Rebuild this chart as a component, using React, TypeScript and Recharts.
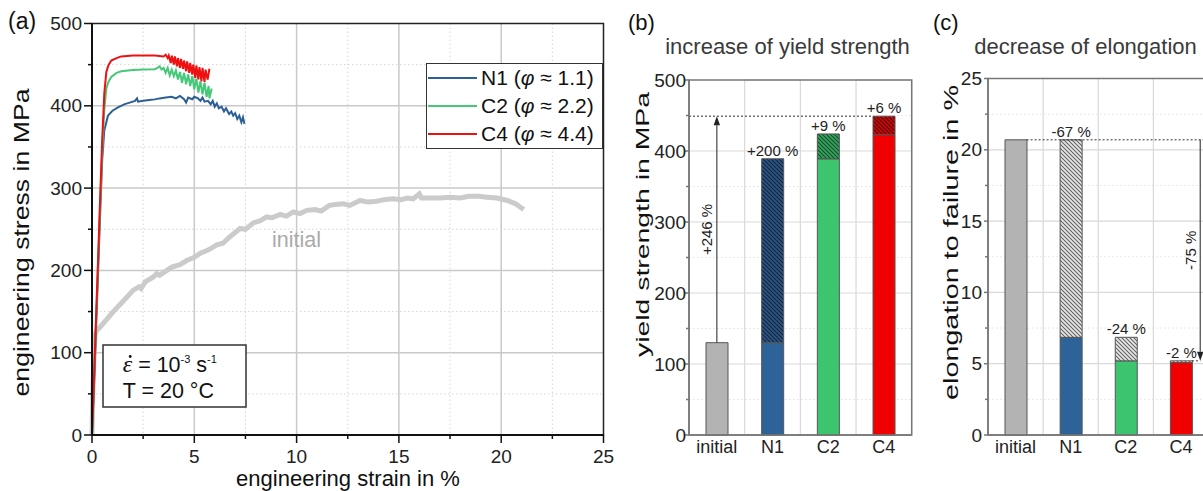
import React from 'react';
import {
  LineChart, Line, XAxis, YAxis, CartesianGrid, ReferenceArea, ReferenceLine,
  Legend, BarChart, Bar, Cell, LabelList,
} from 'recharts';

const FONT = '"Liberation Sans", Arial, Helvetica, sans-serif';

// ---------- (a) tensile curves: [engineering strain %, engineering stress MPa]
const INITIAL_CURVE: [number, number][] = [
  [0, 0], [0.05, 60], [0.1, 100], [0.15, 122], [0.23, 127], [0.39, 131], [0.7, 140], [1.04, 150],
  [1.5, 162], [2.02, 176], [2.3, 180], [2.4, 178], [2.6, 186], [3.0, 192], [3.16, 196], [3.3, 194],
  [3.9, 204], [4.3, 207], [4.63, 212], [5.0, 216], [5.3, 221], [5.7, 225], [6.1, 231], [6.4, 233],
  [6.7, 240], [7.0, 246], [7.24, 251], [7.5, 250], [7.9, 258], [8.2, 260], [8.54, 265], [8.8, 264],
  [9.2, 268], [9.5, 266], [9.84, 271], [10.17, 269], [10.5, 273], [10.9, 274], [11.2, 272],
  [11.6, 279], [11.9, 280], [12.3, 281], [12.6, 279], [13.1, 285], [13.5, 283], [13.9, 284],
  [14.3, 286], [14.7, 287], [15.1, 286], [15.4, 288], [15.7, 287], [16.0, 293], [16.1, 288],
  [16.5, 288], [17.0, 288], [17.5, 289], [18.0, 288], [18.4, 290], [18.9, 290], [19.3, 289],
  [19.8, 288], [20.3, 285], [20.7, 281], [21.1, 274],
];
const N1_CURVE: [number, number][] = [
  [0, 0], [0.1, 60], [0.2, 130], [0.3, 200], [0.4, 270], [0.5, 335], [0.6, 370], [0.64, 374], [0.78, 388],
  [1.0, 394], [1.27, 398], [1.6, 402], [1.92, 404.5], [2.1, 406], [2.2, 409], [2.25, 405], [2.5, 406],
  [2.8, 407], [3.07, 407.8], [3.3, 409], [3.6, 410], [3.9, 411], [4.1, 409], [4.3, 412], [4.5, 408],
  [4.6, 404], [4.7, 410], [4.9, 408], [5.0, 411], [5.18, 409], [5.3, 406], [5.4, 410], [5.5, 405],
  [5.67, 406], [5.8, 402], [5.9, 406], [6.0, 399], [6.1, 403], [6.2, 397], [6.33, 399], [6.45, 393],
  [6.55, 397], [6.7, 390], [6.81, 393], [6.9, 388], [7.0, 391], [7.1, 384], [7.2, 388], [7.3, 380],
  [7.38, 386], [7.45, 378],
];
const C2_CURVE: [number, number][] = [
  [0, 0], [0.1, 70], [0.2, 140], [0.3, 210], [0.4, 280], [0.5, 345], [0.6, 395], [0.7, 421], [0.8, 429],
  [0.94, 435], [1.2, 440], [1.43, 442], [2.0, 443.5], [2.5, 444], [3.07, 444.5], [3.2, 446], [3.3, 448],
  [3.4, 444], [3.5, 446], [3.6, 440], [3.7, 446], [3.8, 437], [3.9, 444], [4.0, 436], [4.1, 443],
  [4.2, 432], [4.3, 441], [4.4, 428], [4.5, 440], [4.6, 426], [4.7, 438], [4.8, 424], [4.9, 436],
  [5.0, 420], [5.1, 433], [5.2, 416], [5.3, 430], [5.4, 414], [5.5, 428], [5.6, 411], [5.7, 424],
  [5.74, 409], [5.85, 421],
];
const C4_CURVE: [number, number][] = [
  [0, 0], [0.1, 70], [0.2, 145], [0.3, 215], [0.4, 290], [0.5, 360], [0.6, 415], [0.7, 441], [0.8, 449],
  [0.94, 455], [1.2, 458], [1.43, 460], [2.0, 461], [2.5, 461], [3.07, 461], [3.5, 460], [3.6, 462],
  [3.7, 458], [3.75, 461], [3.85, 452], [3.9, 461], [4.0, 450], [4.05, 460], [4.15, 448], [4.2, 458],
  [4.3, 446], [4.35, 457], [4.45, 445], [4.5, 455], [4.6, 442], [4.65, 454], [4.75, 440], [4.8, 452],
  [4.9, 438], [4.95, 450], [5.05, 434], [5.1, 449], [5.2, 432], [5.25, 447], [5.35, 430], [5.4, 446],
  [5.5, 429], [5.55, 444], [5.65, 432], [5.74, 445],
];
const STRAIN_TICKS = [0, 2.5, 5, 7.5, 10, 12.5, 15, 17.5, 20, 22.5, 25];
const STRAIN_MAJOR = [0, 5, 10, 15, 20, 25];
const STRESS_TICKS = [0, 50, 100, 150, 200, 250, 300, 350, 400, 450, 500];
const STRESS_MAJOR = [0, 100, 200, 300, 400, 500];
const LEGEND_ORDER = ['N1', 'C2', 'C4'];

// ---------- (b) yield strength
const SAMPLES = ['initial', 'N1', 'C2', 'C4'];
const YIELD_BASE = [130, 130, 389, 423];
const YIELD_TOTAL = [130, 389, 424, 449];
const YIELD_LABELS = ['', '+200 %', '+9 %', '+6 %'];
const YIELD_GAIN_LABEL = '+246 %';
const YS_TICKS = [0, 50, 100, 150, 200, 250, 300, 350, 400, 450, 500];
const YS_MAJOR = [0, 100, 200, 300, 400, 500];

// ---------- (c) elongation to failure
const ELONG_TOTAL = [20.7, 20.7, 6.85, 5.2];
const ELONG_BASE = [20.7, 6.85, 5.2, 5.08];
const ELONG_LABELS = ['', '-67 %', '-24 %', '-2 %'];
const ELONG_LOSS_LABEL = '-75 %';
const EL_TICKS = [0, 2.5, 5, 7.5, 10, 12.5, 15, 17.5, 20, 22.5, 25];
const EL_MAJOR = [0, 5, 10, 15, 20, 25];

// styles
const BAR_W = 22;
const SOLID = ['#b3b3b3', '#2e6399', '#3dc46e', '#f00000'];
const HATCH_B = ['url(#hbGray)', 'url(#hbN1)', 'url(#hbC2)', 'url(#hbC4)'];
const LINE_COL = { initial: '#cbcbcb', N1: '#2d5f97', C2: '#45c878', C4: '#ee1111' };

const toXY = (arr: [number, number][]) => arr.map(([x, y]) => ({ x, y }));
const yieldData = SAMPLES.map((s, i) => ({
  name: s, base: YIELD_BASE[i], inc: YIELD_TOTAL[i] - YIELD_BASE[i], lab: YIELD_LABELS[i],
}));
const elongData = SAMPLES.map((s, i) => ({
  name: s, base: ELONG_BASE[i], dec: ELONG_TOTAL[i] - ELONG_BASE[i], lab: ELONG_LABELS[i],
}));

type TickOpts = {
  side: 'bottom' | 'left'; majors?: number[]; len: number; minorLen: number;
  gap: number; size: number; stroke: string; color: string;
};
function makeTick(o: TickOpts) {
  return (props: any) => {
    const { x, y, payload } = props;
    const v = payload?.value;
    const major = !o.majors || o.majors.includes(v);
    const L = major ? o.len : o.minorLen;
    if (o.side === 'bottom') {
      return (
        <g>
          {L > 0 && <line x1={x} x2={x} y1={y} y2={y + L} stroke={o.stroke} strokeWidth={1.5} />}
          {major && (
            <text x={x} y={y + o.gap} textAnchor="middle" fontSize={o.size} fontFamily={FONT} fill={o.color}>{v}</text>
          )}
        </g>
      );
    }
    return (
      <g>
        {L > 0 && <line x1={x - L} x2={x} y1={y} y2={y} stroke={o.stroke} strokeWidth={1.5} />}
        {major && (
          <text x={x - o.gap} y={y + o.size * 0.35} textAnchor="end" fontSize={o.size} fontFamily={FONT} fill={o.color}>{v}</text>
        )}
      </g>
    );
  };
}

const barLabel = (p: any) => {
  if (!p.value) return null;
  return (
    <text x={p.x + p.width / 2} y={p.y - 3} textAnchor="middle" fontSize={15} fontFamily={FONT} fill="#222">
      {p.value}
    </text>
  );
};

function drawArrow(x: number, tailY: number, tipY: number, label: string) {
  const dir = tipY < tailY ? 1 : -1;
  const baseY = tipY + dir * 9;
  const mid = (tailY + tipY) / 2;
  return (
    <g>
      <line x1={x} x2={x} y1={tailY} y2={baseY} stroke="#444" strokeWidth={1.2} />
      <path d={`M${x},${tipY}L${x - 3.2},${baseY}L${x + 3.2},${baseY}Z`} fill="#222" />
      <text transform={`translate(${x - 4.5},${mid}) rotate(-90)`} textAnchor="middle" fontSize={15}
        fontFamily={FONT} fill="#222">{label}</text>
    </g>
  );
}

// (b): vertical arrow at the centre of the first band
const gainArrow = (p: any) => drawArrow(p.x1, p.y1, p.y2, YIELD_GAIN_LABEL);
// (b): dotted guide from the plot's left edge to the left edge of the last bar
const gainGuide = (p: any) => {
  const band = (p.x2 - p.x1) / 3;
  return <line x1={p.x1 - band / 2} x2={p.x2 - BAR_W / 2} y1={p.y1} y2={p.y2} stroke="#333" strokeWidth={1} strokeDasharray="2 2" />;
};
// (c): dotted guide from the first bar to the plot's right edge
const lossGuide = (p: any) => {
  const band = (p.x2 - p.x1) / 3;
  return <line x1={p.x1 + BAR_W / 2} x2={p.x2 + band / 2} y1={p.y1} y2={p.y2} stroke="#333" strokeWidth={1} strokeDasharray="2 2" />;
};
// (c): arrow down at the right of the last bar, from first bar level to last bar level
const lossArrow = (p: any) => {
  const band = (p.x2 - p.x1) / 3;
  const ax = p.x2 + band * 0.35;
  return (
    <g>
      <line x1={p.x2 + BAR_W / 2} x2={ax} y1={p.y2} y2={p.y2} stroke="#333" strokeWidth={1} strokeDasharray="2 2" />
      {drawArrow(ax, p.y1, p.y2, ELONG_LOSS_LABEL)}
    </g>
  );
};

const legendContent = (props: any) => {
  const items = (props.payload || [])
    .filter((e: any) => e.type !== 'none')
    .slice()
    .sort((a: any, b: any) =>
      LEGEND_ORDER.indexOf(String(a.value).split(' ')[0]) - LEGEND_ORDER.indexOf(String(b.value).split(' ')[0]));
  return (
    <div style={{
      boxSizing: 'border-box', width: 177, border: '1.5px solid #333', background: '#fff',
      fontFamily: FONT, fontSize: 21, color: '#111',
    }}>
      {items.map((e: any) => {
        const parts = String(e.value).split('φ');
        return (
          <div key={e.value} style={{ height: 28, display: 'flex', alignItems: 'center' }}>
            <svg width={54} height={28} style={{ flex: 'none' }}>
              <line x1={1} x2={50} y1={14} y2={14} stroke={e.color} strokeWidth={2.2} />
            </svg>
            <span style={{ whiteSpace: 'nowrap', lineHeight: '28px' }}>
              {parts[0]}<i>φ</i>{parts[1]}
            </span>
          </div>
        );
      })}
    </div>
  );
};

function PanelA() {
  return (
    <div style={{ position: 'absolute', left: 0, top: 0 }}>
      <LineChart width={640} height={491} margin={{ top: 23.5, right: 36.5, bottom: 16, left: 32 }}>
        <CartesianGrid horizontalValues={[100, 200, 300, 400]} verticalValues={[5, 10, 15, 20]}
          stroke="#c9c9c9" strokeWidth={1.5} />
        <CartesianGrid horizontalValues={[50, 150, 250, 350, 450]} verticalValues={[2.5, 7.5, 12.5, 17.5, 22.5]}
          stroke="#d6d6d6" strokeWidth={1} strokeDasharray="1.5 2.5" />
        <XAxis type="number" dataKey="x" domain={[0, 25]} ticks={STRAIN_TICKS} interval={0} height={40}
          tickSize={0} tickMargin={0} tickLine={false} axisLine={{ stroke: '#111', strokeWidth: 2 }}
          tick={makeTick({ side: 'bottom', majors: STRAIN_MAJOR, len: 8, minorLen: 4, gap: 28, size: 19, stroke: '#111', color: '#222' })} />
        <YAxis type="number" dataKey="y" domain={[0, 500]} ticks={STRESS_TICKS} interval={0} width={60}
          tickSize={0} tickMargin={0} tickLine={false} axisLine={{ stroke: '#111', strokeWidth: 2 }}
          tick={makeTick({ side: 'left', majors: STRESS_MAJOR, len: 8, minorLen: 4, gap: 10, size: 19, stroke: '#111', color: '#222' })} />
        <ReferenceArea x1={0} x2={25} y1={0} y2={500} fill="none" stroke="#222" strokeWidth={1.5} />
        <Line data={toXY(INITIAL_CURVE)} dataKey="y" name="initial" legendType="none" stroke={LINE_COL.initial}
          strokeWidth={5} dot={false} isAnimationActive={false} type="linear" />
        <Line data={toXY(N1_CURVE)} dataKey="y" name="N1 (φ ≈ 1.1)" stroke={LINE_COL.N1}
          strokeWidth={2} dot={false} isAnimationActive={false} type="linear" />
        <Line data={toXY(C2_CURVE)} dataKey="y" name="C2 (φ ≈ 2.2)" stroke={LINE_COL.C2}
          strokeWidth={2} dot={false} isAnimationActive={false} type="linear" />
        <Line data={toXY(C4_CURVE)} dataKey="y" name="C4 (φ ≈ 4.4)" stroke={LINE_COL.C4}
          strokeWidth={2} dot={false} isAnimationActive={false} type="linear" />
        <Legend layout="vertical" align="center" verticalAlign="middle" content={legendContent}
          wrapperStyle={{ left: 426, top: 63, width: 177, height: 87 }} />
      </LineChart>
    </div>
  );
}

function Patterns() {
  const mk = (id: string, bg: string, fg: string) => (
    <pattern id={id} patternUnits="userSpaceOnUse" width={4} height={4}>
      <rect width={4} height={4} fill={bg} />
      <path d="M0,0L4,4M-1,3L1,5M3,-1L5,1" stroke={fg} strokeWidth={1.1} />
    </pattern>
  );
  return (
    <defs>
      {mk('hbGray', '#e8e8e8', '#636363')}
      {mk('hbN1', '#2c5585', '#14253b')}
      {mk('hbC2', '#37a35e', '#134d28')}
      {mk('hbC4', '#c80a0a', '#560000')}
    </defs>
  );
}

function PanelB() {
  return (
    <div style={{ position: 'absolute', left: 600, top: 0 }}>
      <BarChart width={330} height={491} data={yieldData} margin={{ top: 80, right: 18.3, bottom: 26, left: 39 }}
        barSize={BAR_W}>
        <Patterns />
        <CartesianGrid vertical={false} horizontalValues={[100, 200, 300, 400]} stroke="#d9d9d9" strokeWidth={1.2} />
        <CartesianGrid vertical={false} horizontalValues={[50, 150, 250, 350, 450]} stroke="#e2e2e2" strokeDasharray="1.5 2.5" />
        <XAxis dataKey="name" type="category" height={30} tickSize={0} tickMargin={0} tickLine={false}
          axisLine={{ stroke: '#777', strokeWidth: 1.5 }} interval={0}
          tick={makeTick({ side: 'bottom', len: 0, minorLen: 0, gap: 18, size: 18, stroke: '#777', color: '#222' })} />
        <YAxis type="number" domain={[0, 500]} ticks={YS_TICKS} interval={0} width={50}
          tickSize={0} tickMargin={0} tickLine={false} axisLine={{ stroke: '#777', strokeWidth: 1.5 }}
          tick={makeTick({ side: 'left', majors: YS_MAJOR, len: 4, minorLen: 3, gap: 3, size: 19, stroke: '#777', color: '#222' })} />
        <ReferenceArea x1="N1" x2="N1" y1={0} y2={500} fill="none" stroke="#d9d9d9" strokeWidth={1.2} />
        <ReferenceArea x1="C4" x2="C4" y1={0} y2={500} fill="none" stroke="#d9d9d9" strokeWidth={1.2} />
        <ReferenceArea y1={0} y2={500} fill="none" stroke="#777" strokeWidth={1.5} />
        <ReferenceLine segment={[{ x: 'initial', y: YIELD_TOTAL[3] }, { x: 'C4', y: YIELD_TOTAL[3] }]}
          shape={gainGuide} />
        <Bar dataKey="base" stackId="s" stroke="#555" strokeWidth={1} isAnimationActive={false}>
          {yieldData.map((d, i) => <Cell key={d.name} fill={SOLID[i]} />)}
        </Bar>
        <Bar dataKey="inc" stackId="s" stroke="#555" strokeWidth={1} isAnimationActive={false}>
          {yieldData.map((d, i) => <Cell key={d.name} fill={HATCH_B[i]} />)}
          <LabelList dataKey="lab" content={barLabel} />
        </Bar>
        <ReferenceLine segment={[{ x: 'initial', y: YIELD_TOTAL[0] }, { x: 'initial', y: YIELD_TOTAL[3] }]}
          shape={gainArrow} />
      </BarChart>
    </div>
  );
}

function PanelC() {
  return (
    <div style={{ position: 'absolute', left: 920, top: 0 }}>
      <BarChart width={300} height={491} data={elongData} margin={{ top: 78.5, right: 11.5, bottom: 26, left: 28 }}
        barSize={BAR_W}>
        <Patterns />
        <CartesianGrid vertical={false} horizontalValues={[5, 10, 15, 20]} stroke="#d9d9d9" strokeWidth={1.2} />
        <CartesianGrid vertical={false} horizontalValues={[2.5, 7.5, 12.5, 17.5, 22.5]} stroke="#e2e2e2" strokeDasharray="1.5 2.5" />
        <XAxis dataKey="name" type="category" height={30} tickSize={0} tickMargin={0} tickLine={false}
          axisLine={{ stroke: '#777', strokeWidth: 1.5 }} interval={0}
          tick={makeTick({ side: 'bottom', len: 0, minorLen: 0, gap: 18, size: 18, stroke: '#777', color: '#222' })} />
        <YAxis type="number" domain={[0, 25]} ticks={EL_TICKS} interval={0} width={40}
          tickSize={0} tickMargin={0} tickLine={false} axisLine={{ stroke: '#777', strokeWidth: 1.5 }}
          tick={makeTick({ side: 'left', majors: EL_MAJOR, len: 4, minorLen: 3, gap: 6, size: 19, stroke: '#777', color: '#222' })} />
        <ReferenceArea x1="N1" x2="N1" y1={0} y2={25} fill="none" stroke="#d9d9d9" strokeWidth={1.2} />
        <ReferenceArea x1="C4" x2="C4" y1={0} y2={25} fill="none" stroke="#d9d9d9" strokeWidth={1.2} />
        <ReferenceArea y1={0} y2={25} fill="none" stroke="#777" strokeWidth={1.5} />
        <ReferenceLine segment={[{ x: 'initial', y: ELONG_TOTAL[0] }, { x: 'C4', y: ELONG_TOTAL[0] }]}
          shape={lossGuide} />
        <Bar dataKey="base" stackId="s" stroke="#555" strokeWidth={1} isAnimationActive={false}>
          {elongData.map((d, i) => <Cell key={d.name} fill={SOLID[i]} />)}
        </Bar>
        <Bar dataKey="dec" stackId="s" stroke="#555" strokeWidth={1} isAnimationActive={false}>
          {elongData.map((d) => <Cell key={d.name} fill="url(#hbGray)" />)}
          <LabelList dataKey="lab" content={barLabel} />
        </Bar>
        <ReferenceLine segment={[{ x: 'initial', y: ELONG_TOTAL[0] }, { x: 'C4', y: ELONG_TOTAL[3] }]}
          shape={lossArrow} />
      </BarChart>
    </div>
  );
}

function Overlay() {
  const t = { fontFamily: FONT, fill: '#111' } as const;
  return (
    <svg width={1203} height={491} style={{ position: 'absolute', left: 0, top: 0, pointerEvents: 'none', zIndex: 5 }}>
      <text x={8} y={28.5} fontSize={23} {...t}>(a)</text>
      <text x={628} y={30.4} fontSize={22} {...t}>(b)</text>
      <text x={933} y={29.5} fontSize={22} {...t}>(c)</text>
      <text x={787.5} y={53.5} fontSize={22} textAnchor="middle" fontFamily={FONT} fill="#3a3a3a">increase of yield strength</text>
      <text x={1085.5} y={53.5} fontSize={22} textAnchor="middle" fontFamily={FONT} fill="#3a3a3a">decrease of elongation</text>
      <text transform="translate(28.6,242.5) rotate(-90)" fontSize={22} textAnchor="middle" textLength={308}
        lengthAdjust="spacingAndGlyphs" {...t}>engineering stress in MPa</text>
      <text x={348} y={486} fontSize={22} textAnchor="middle" {...t}>engineering strain in %</text>
      <text transform="translate(648.5,224.5) rotate(-90)" fontSize={19} textAnchor="middle" textLength={265}
        lengthAdjust="spacingAndGlyphs" {...t}>yield strength in MPa</text>
      <text transform="translate(958,242.5) rotate(-90)" fontSize={21} textAnchor="middle" textLength={315}
        lengthAdjust="spacingAndGlyphs" {...t}>elongation to failure in %</text>
      <text x={272} y={247} fontSize={21.5} fontFamily={FONT} fill="#aaaaaa">initial</text>
      <rect x={103} y={345} width={143} height={62} fill="#fff" stroke="#333" strokeWidth={1.5} />
      <text x={122.7} y={372} fontSize={21.5} {...t}>
        <tspan fontFamily='"Liberation Serif", "DejaVu Serif", serif' fontStyle="italic" fontSize={24}>{'\u03B5'}</tspan>
        <tspan> = 10</tspan>
        <tspan dy={-9} fontSize={11}>-3</tspan>
        <tspan dy={9}> s</tspan>
        <tspan dy={-9} fontSize={11}>-1</tspan>
      </text>
      <circle cx={130.2} cy={356.5} r={1.4} fill="#111" />
      <text x={122.7} y={398} fontSize={21.5} {...t}>T = 20 °C</text>
    </svg>
  );
}

export default function App() {
  return (
    <div style={{ position: 'absolute', left: 0, top: 0, width: 1203, height: 491, overflow: 'hidden', background: '#fff' }}>
      <PanelA />
      <PanelB />
      <PanelC />
      <Overlay />
    </div>
  );
}
